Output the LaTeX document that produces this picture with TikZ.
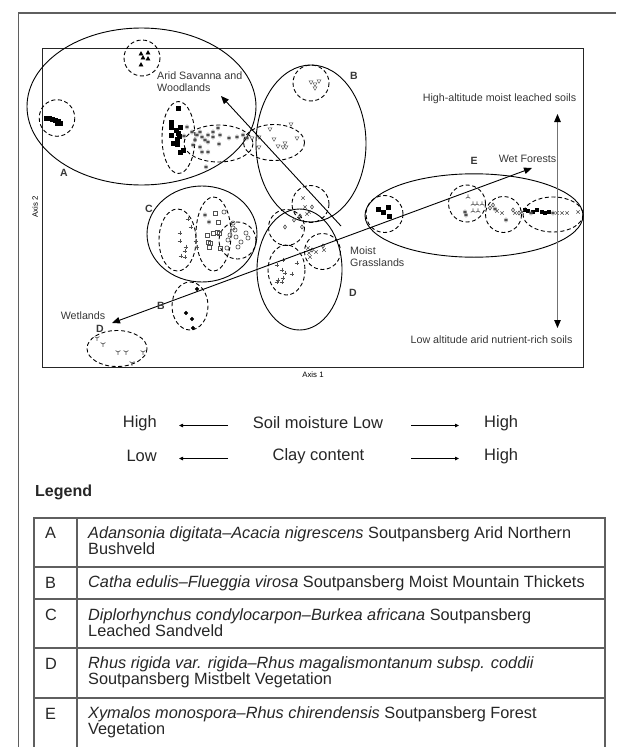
\documentclass[tikz,border=0pt]{standalone}
\usepackage{fontspec}
\setmainfont{Liberation Sans}
\usetikzlibrary{arrows.meta,plotmarks}

\definecolor{framegray}{RGB}{95,95,95}
\definecolor{markgray}{RGB}{80,80,80}
\definecolor{labelgray}{RGB}{55,55,55}

\tikzset{
  group/.style={draw=black, line width=0.9pt},
  subgroup/.style={draw=black, line width=0.9pt, dash pattern=on 4pt off 2.6pt},
  grplabel/.style={font=\fontsize{10.5}{12}\selectfont\bfseries, text=labelgray, inner sep=0pt},
  zonelabel/.style={font=\fontsize{10.7}{11.8}\selectfont, text=labelgray, inner sep=0pt, align=left},
  axislabel/.style={font=\fontsize{7.8}{9}\selectfont, inner sep=0pt},
  gradient/.style={draw=black, line width=0.9pt},
  scaletext/.style={font=\fontsize{16.5}{16}\selectfont, text=black!85, inner sep=0pt},
  scalearrow/.style={draw=black, line width=1.3pt, -{Triangle[length=4pt,width=3.4pt]}},
  legtext/.style={font=\fontsize{16.3}{16}\selectfont, text=black!85, inner sep=0pt, align=left},
  tableline/.style={draw=framegray, line width=1.2pt},
  greymarks/.style={only marks, mark size=2.3pt, every mark/.append style={line width=0.65pt}},
  blackmarks/.style={only marks, mark size=1.9pt},
}

\begin{document}
\begin{tikzpicture}[x=1pt, y=-1pt, >={Triangle[length=8pt,width=6.5pt]}]
  \useasboundingbox (0,0) rectangle (616,747);

  % frame and plot box
  \draw[framegray, line width=1.3pt] (616,13) -- (18.5,13) -- (18.5,747);
  \draw[black!85, line width=0.9pt] (42,48) rectangle (583,367);

  % main groups
  \draw[group] (141.5,106.5) ellipse (114.5 and 78.5);
  \draw[group] (311,143.5) ellipse (55 and 78.5);
  \draw[group] (202,234) ellipse (55 and 48);
  \draw[group] (299.5,269.5) ellipse (42.5 and 60.5);
  \draw[group] (474,215.5) ellipse (109 and 41.7);

  % sub-groups
  \draw[subgroup] (142,58) circle (18);
  \draw[subgroup] (57,118) ellipse (17.8 and 18.3);
  \draw[subgroup] (178.5,137.5) ellipse (16.5 and 36);
  \draw[subgroup] (218.5,143.5) ellipse (34.5 and 18.5);
  \draw[subgroup] (274,142.5) ellipse (30.5 and 18);
  \draw[subgroup] (311,83) circle (18);
  \draw[subgroup] (310.5,204) circle (18.5);
  \draw[subgroup] (286.5,227.5) circle (18);
  \draw[subgroup] (286.5,270) ellipse (18.5 and 25);
  \draw[subgroup] (322.5,251.5) circle (18);
  \draw[subgroup] (177.5,240) ellipse (18.5 and 31);
  \draw[subgroup] (213.5,234) ellipse (17.5 and 37);
  \draw[subgroup] (237.5,240.5) circle (18.5);
  \draw[subgroup] (190,306) ellipse (18 and 24);
  \draw[subgroup] (117,348.5) ellipse (30 and 18);
  \draw[subgroup] (384.5,214) circle (18.5);
  \draw[subgroup] (467,203.5) circle (18.5);
  \draw[subgroup] (503.5,214.5) circle (18);
  \draw[subgroup] (553,214.5) ellipse (30 and 17.5);

  % black markers
  \draw[black] plot[blackmarks, mark=triangle*, mark size=2.4pt]
    coordinates {(141,54) (148,53) (143,58) (148,59) (141,65)};
  \draw[black] plot[blackmarks, mark=square*, mark size=1.7pt]
    coordinates {(46,118) (49,118) (52,119) (55,120) (58,121) (60,123) (57,123)};
  \draw[black] plot[blackmarks, mark=square*]
    coordinates {(178,108) (171,122) (171,127) (180,127) (176,130) (171,135) (178,133)
                 (179,136) (177,139) (173,143) (177,144) (180,152) (183,150)};
  \draw[black] plot[blackmarks, mark=*, mark size=1.8pt]
    coordinates {(197,289) (186,313) (192,319) (193,328)};
  \draw[black] plot[blackmarks, mark=square*]
    coordinates {(378,209) (383,212) (388,207) (389,216)};
  \draw[black] plot[blackmarks, mark=square*, mark size=1.6pt]
    coordinates {(525,210) (528,211) (533,212) (537,210) (542,212) (545,213) (549,212)};

  % grey markers
  \draw[markgray] plot[greymarks, mark=asterisk]
    coordinates {(187,127) (192,132) (197,135) (200,132) (202,137) (205,140) (208,135)
                 (213,137) (218,128) (220,135) (213,132) (193,145) (200,147) (208,142)
                 (219,144) (202,152) (208,152) (229,138) (237,137) (243,135) (247,138)
                 (206,167) (195,140) (184,136) (465,212) (466,215) (506,220) (495,209)
                 (553,213) (531,213)};
  \draw[markgray] plot[greymarks, mark=triangle, mark options={rotate=180}]
    coordinates {(270,129) (291,124) (259,147) (252,138) (274,139) (278,146) (283,147)
                 (285,143) (286,147) (297,138) (259,137) (311,82) (315,84) (319,81) (315,88)};
  \draw[markgray] plot[greymarks, mark=x]
    coordinates {(303,198) (305,207) (309,212) (307,214) (308,248) (316,252) (324,250)
                 (310,257) (309,253) (497,211) (502,213) (515,213) (522,212) (557,213)
                 (562,213) (567,213) (578,212)};
  \draw[markgray] plot[greymarks, mark=diamond, mark size=2pt]
    coordinates {(312,207) (300,216) (285,227) (294,220) (302,227) (312,250) (323,246)
                 (490,208) (493,205) (513,210) (519,213)};
  \draw[markgray] plot[greymarks, mark=+]
    coordinates {(277,265) (282,270) (285,273) (292,274) (278,280) (283,278) (277,282)
                 (282,282) (283,260) (297,263) (180,233) (180,241) (188,219) (191,227)
                 (196,241) (197,247) (186,247) (185,251) (181,256) (185,257)};
  \draw[markgray] plot[greymarks, mark=square, mark size=2pt]
    coordinates {(215,213) (218,222) (207,235) (213,233) (217,232) (219,233) (208,242)
                 (210,243) (209,247) (220,248)};
  \draw[markgray] plot[greymarks, mark=asterisk]
    coordinates {(205,215) (209,222)};
  \draw[markgray] plot[greymarks, mark=o, mark size=2.1pt]
    coordinates {(224,212) (233,223) (235,230) (230,235) (236,237) (241,242) (248,238)
                 (246,233) (228,240) (238,247) (227,248) (233,228)};
  \draw[markgray] plot[greymarks, mark=Mercedes star flipped, mark size=2.8pt]
    coordinates {(97,338) (103,344) (118,352) (126,352) (143,352) (132,363)};
  \draw[markgray] plot[greymarks, mark=Mercedes star, mark size=2.6pt]
    coordinates {(468,197) (473,204) (477,204) (482,204) (473,211) (478,211)};

  % gradient arrows
  \coordinate (grass) at (341,226);
  \coordinate (arid) at (221,96);
  \coordinate (wetend) at (112,323);
  \coordinate (forestend) at (532,168);
  \coordinate (hialt) at (557.5,114);
  \coordinate (loalt) at (557.5,328);
  \draw[gradient, ->] (grass) -- (arid);
  \draw[gradient, <->] (wetend) -- (forestend);
  \draw[draw=black!55, line width=1.1pt,
        {Triangle[length=8pt,width=6.5pt,color=black]}-{Triangle[length=8pt,width=6.5pt,color=black]}]
        (hialt) -- (loalt);

  % group letters
  \node[grplabel] (lblA) at (64,173) {A};
  \node[grplabel] (lblB) at (354,76) {B};
  \node[grplabel] (lblC) at (149,209) {C};
  \node[grplabel] (lblD) at (353,293) {D};
  \node[grplabel] (lblE) at (474,161) {E};
  \node[grplabel] (lblB2) at (161,306) {B};
  \node[grplabel] (lblD2) at (100,329) {D};

  % zone labels
  \node[zonelabel, anchor=west] (aridtxt) at (157,82) {Arid Savanna and\\Woodlands};
  \node[zonelabel, anchor=west] (grasstxt) at (350,256.5) {Moist\\Grasslands};
  \node[zonelabel] (wettxt) at (83,316) {Wetlands};
  \node[zonelabel] (foresttxt) at (527.5,159) {Wet Forests};
  \node[zonelabel] (hialttxt) at (499.5,99) {High-altitude moist leached soils};
  \node[zonelabel] (loalttxt) at (491.5,340) {Low altitude arid nutrient-rich soils};
  \node[axislabel] (axis1) at (313,375) {Axis 1};
  \node[axislabel, rotate=90] (axis2) at (35,207) {Axis 2};

  % gradient key
  \node[scaletext, anchor=east] (moisthi) at (157,423) {High};
  \node[scaletext] (moisture) at (318,423) {Soil moisture Low};
  \node[scaletext, anchor=west] (moistlo) at (484,423) {High};
  \node[scaletext, anchor=east] (claylo) at (157,456) {Low};
  \node[scaletext] (clay) at (318.5,456) {Clay content};
  \node[scaletext, anchor=west] (clayhi) at (484,456) {High};
  \coordinate (m1) at (228,425.5);
  \coordinate (m2) at (179,425.5);
  \coordinate (m3) at (411,425.5);
  \coordinate (m4) at (459,425.5);
  \coordinate (c1) at (228,458.5);
  \coordinate (c2) at (179,458.5);
  \coordinate (c3) at (411,458.5);
  \coordinate (c4) at (459,458.5);
  \draw[scalearrow] (m1) -- (m2);
  \draw[scalearrow] (m3) -- (m4);
  \draw[scalearrow] (c1) -- (c2);
  \draw[scalearrow] (c3) -- (c4);

  % legend
  \node[font=\fontsize{16}{16}\selectfont\bfseries, text=black!85, anchor=west, inner sep=0pt]
    (legendtitle) at (35,492) {Legend};
  \draw[tableline] (34,747) -- (34,518) -- (605,518) -- (605,747);
  \draw[tableline] (77,518) -- (77,747);
  \foreach \y in {567,599,648,698}
    \draw[tableline] (34,\y) -- (605,\y);

  \node[legtext, anchor=west] (keyA) at (45,533) {A};
  \node[legtext, anchor=west] (keyB) at (45,583) {B};
  \node[legtext, anchor=west] (keyC) at (45,615) {C};
  \node[legtext, anchor=west] (keyD) at (45,664) {D};
  \node[legtext, anchor=west] (keyE) at (45,714) {E};
  \node[legtext, anchor=west] (descA) at (88,541) {\textit{Adansonia digitata--Acacia nigrescens} Soutpansberg Arid Northern\\Bushveld};
  \node[legtext, anchor=west] (descB) at (88,583) {\textit{Catha edulis--Flueggia virosa} Soutpansberg Moist Mountain Thickets};
  \node[legtext, anchor=west] (descC) at (88,623) {\textit{Diplorhynchus condylocarpon--Burkea africana} Soutpansberg\\Leached Sandveld};
  \node[legtext, anchor=west] (descD) at (88,672) {\textit{Rhus rigida var. rigida--Rhus magalismontanum subsp. coddii}\\Soutpansberg Mistbelt Vegetation};
  \node[legtext, anchor=west] (descE) at (88,722) {\textit{Xymalos monospora--Rhus chirendensis} Soutpansberg Forest\\Vegetation};
\end{tikzpicture}
\end{document}
